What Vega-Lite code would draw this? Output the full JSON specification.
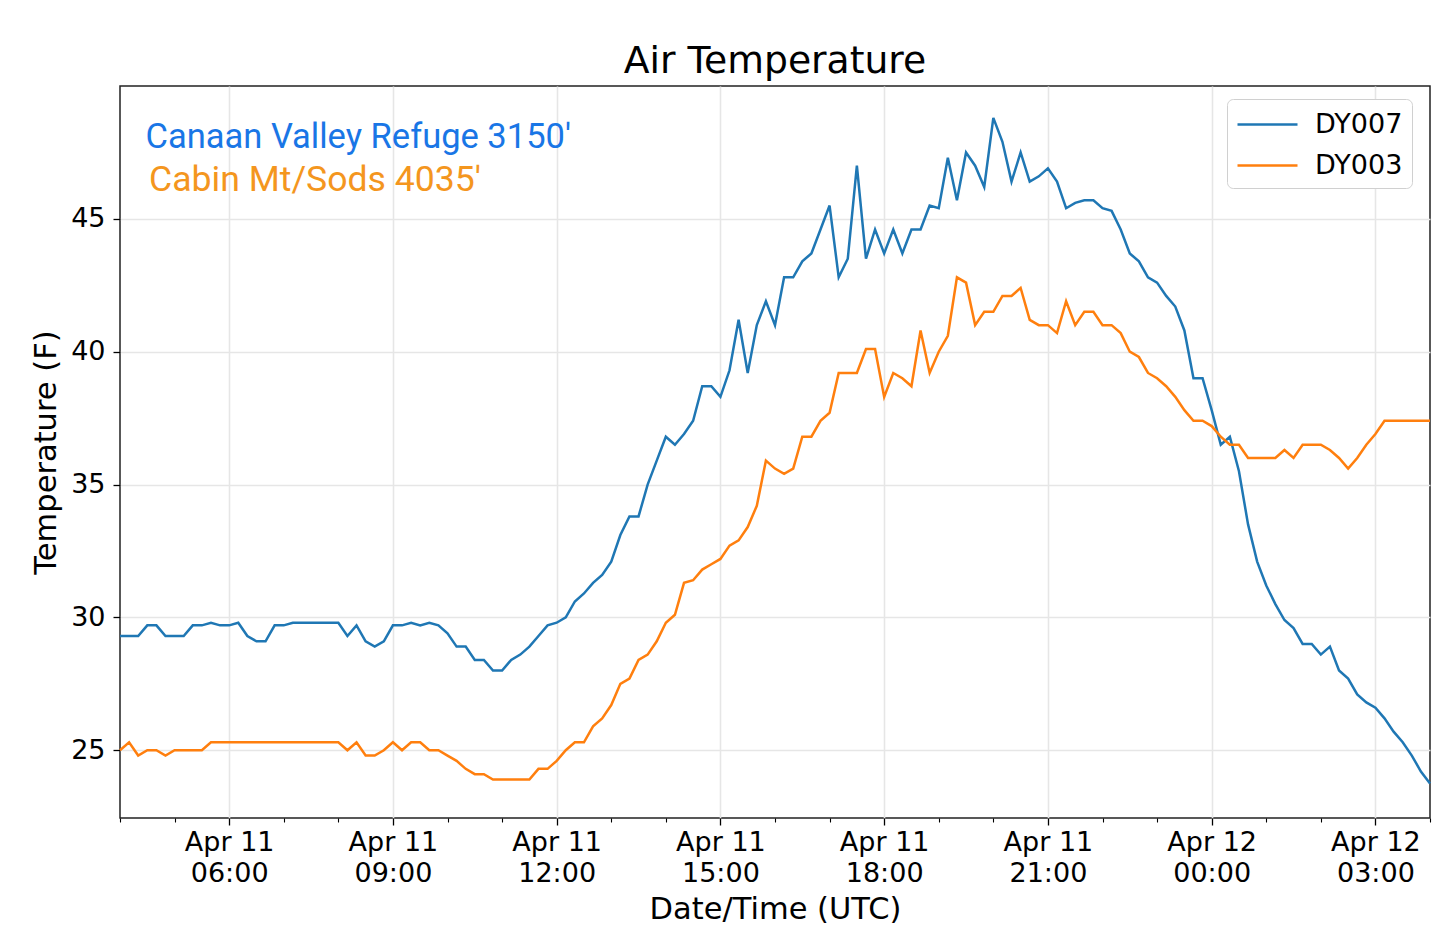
{
  "$schema": "https://vega.github.io/schema/vega-lite/v6.json",
  "width": 1310,
  "height": 732,
  "autosize": {"type": "none"},
  "padding": {"left": 120, "top": 86, "right": 10, "bottom": 130},
  "title": {
    "text": "Air Temperature",
    "font": "DejaVu Sans",
    "fontSize": 37.7,
    "fontWeight": "normal",
    "color": "black",
    "anchor": "middle",
    "baseline": "alphabetic",
    "offset": -25
  },
  "data": {
    "values": [
      {"t": "2019-04-11T04:00:00Z", "DY007": 29.3, "DY003": 25.0},
      {"t": "2019-04-11T04:10:00Z", "DY007": 29.3, "DY003": 25.3},
      {"t": "2019-04-11T04:20:00Z", "DY007": 29.3, "DY003": 24.8},
      {"t": "2019-04-11T04:30:00Z", "DY007": 29.7, "DY003": 25.0},
      {"t": "2019-04-11T04:40:00Z", "DY007": 29.7, "DY003": 25.0},
      {"t": "2019-04-11T04:50:00Z", "DY007": 29.3, "DY003": 24.8},
      {"t": "2019-04-11T05:00:00Z", "DY007": 29.3, "DY003": 25.0},
      {"t": "2019-04-11T05:10:00Z", "DY007": 29.3, "DY003": 25.0},
      {"t": "2019-04-11T05:20:00Z", "DY007": 29.7, "DY003": 25.0},
      {"t": "2019-04-11T05:30:00Z", "DY007": 29.7, "DY003": 25.0},
      {"t": "2019-04-11T05:40:00Z", "DY007": 29.8, "DY003": 25.3},
      {"t": "2019-04-11T05:50:00Z", "DY007": 29.7, "DY003": 25.3},
      {"t": "2019-04-11T06:00:00Z", "DY007": 29.7, "DY003": 25.3},
      {"t": "2019-04-11T06:10:00Z", "DY007": 29.8, "DY003": 25.3},
      {"t": "2019-04-11T06:20:00Z", "DY007": 29.3, "DY003": 25.3},
      {"t": "2019-04-11T06:30:00Z", "DY007": 29.1, "DY003": 25.3},
      {"t": "2019-04-11T06:40:00Z", "DY007": 29.1, "DY003": 25.3},
      {"t": "2019-04-11T06:50:00Z", "DY007": 29.7, "DY003": 25.3},
      {"t": "2019-04-11T07:00:00Z", "DY007": 29.7, "DY003": 25.3},
      {"t": "2019-04-11T07:10:00Z", "DY007": 29.8, "DY003": 25.3},
      {"t": "2019-04-11T07:20:00Z", "DY007": 29.8, "DY003": 25.3},
      {"t": "2019-04-11T07:30:00Z", "DY007": 29.8, "DY003": 25.3},
      {"t": "2019-04-11T07:40:00Z", "DY007": 29.8, "DY003": 25.3},
      {"t": "2019-04-11T07:50:00Z", "DY007": 29.8, "DY003": 25.3},
      {"t": "2019-04-11T08:00:00Z", "DY007": 29.8, "DY003": 25.3},
      {"t": "2019-04-11T08:10:00Z", "DY007": 29.3, "DY003": 25.0},
      {"t": "2019-04-11T08:20:00Z", "DY007": 29.7, "DY003": 25.3},
      {"t": "2019-04-11T08:30:00Z", "DY007": 29.1, "DY003": 24.8},
      {"t": "2019-04-11T08:40:00Z", "DY007": 28.9, "DY003": 24.8},
      {"t": "2019-04-11T08:50:00Z", "DY007": 29.1, "DY003": 25.0},
      {"t": "2019-04-11T09:00:00Z", "DY007": 29.7, "DY003": 25.3},
      {"t": "2019-04-11T09:10:00Z", "DY007": 29.7, "DY003": 25.0},
      {"t": "2019-04-11T09:20:00Z", "DY007": 29.8, "DY003": 25.3},
      {"t": "2019-04-11T09:30:00Z", "DY007": 29.7, "DY003": 25.3},
      {"t": "2019-04-11T09:40:00Z", "DY007": 29.8, "DY003": 25.0},
      {"t": "2019-04-11T09:50:00Z", "DY007": 29.7, "DY003": 25.0},
      {"t": "2019-04-11T10:00:00Z", "DY007": 29.4, "DY003": 24.8},
      {"t": "2019-04-11T10:10:00Z", "DY007": 28.9, "DY003": 24.6},
      {"t": "2019-04-11T10:20:00Z", "DY007": 28.9, "DY003": 24.3},
      {"t": "2019-04-11T10:30:00Z", "DY007": 28.4, "DY003": 24.1},
      {"t": "2019-04-11T10:40:00Z", "DY007": 28.4, "DY003": 24.1},
      {"t": "2019-04-11T10:50:00Z", "DY007": 28.0, "DY003": 23.9},
      {"t": "2019-04-11T11:00:00Z", "DY007": 28.0, "DY003": 23.9},
      {"t": "2019-04-11T11:10:00Z", "DY007": 28.4, "DY003": 23.9},
      {"t": "2019-04-11T11:20:00Z", "DY007": 28.6, "DY003": 23.9},
      {"t": "2019-04-11T11:30:00Z", "DY007": 28.9, "DY003": 23.9},
      {"t": "2019-04-11T11:40:00Z", "DY007": 29.3, "DY003": 24.3},
      {"t": "2019-04-11T11:50:00Z", "DY007": 29.7, "DY003": 24.3},
      {"t": "2019-04-11T12:00:00Z", "DY007": 29.8, "DY003": 24.6},
      {"t": "2019-04-11T12:10:00Z", "DY007": 30.0, "DY003": 25.0},
      {"t": "2019-04-11T12:20:00Z", "DY007": 30.6, "DY003": 25.3},
      {"t": "2019-04-11T12:30:00Z", "DY007": 30.9, "DY003": 25.3},
      {"t": "2019-04-11T12:40:00Z", "DY007": 31.3, "DY003": 25.9},
      {"t": "2019-04-11T12:50:00Z", "DY007": 31.6, "DY003": 26.2},
      {"t": "2019-04-11T13:00:00Z", "DY007": 32.1, "DY003": 26.7},
      {"t": "2019-04-11T13:10:00Z", "DY007": 33.1, "DY003": 27.5},
      {"t": "2019-04-11T13:20:00Z", "DY007": 33.8, "DY003": 27.7},
      {"t": "2019-04-11T13:30:00Z", "DY007": 33.8, "DY003": 28.4},
      {"t": "2019-04-11T13:40:00Z", "DY007": 35.0, "DY003": 28.6},
      {"t": "2019-04-11T13:50:00Z", "DY007": 35.9, "DY003": 29.1},
      {"t": "2019-04-11T14:00:00Z", "DY007": 36.8, "DY003": 29.8},
      {"t": "2019-04-11T14:10:00Z", "DY007": 36.5, "DY003": 30.1},
      {"t": "2019-04-11T14:20:00Z", "DY007": 36.9, "DY003": 31.3},
      {"t": "2019-04-11T14:30:00Z", "DY007": 37.4, "DY003": 31.4},
      {"t": "2019-04-11T14:40:00Z", "DY007": 38.7, "DY003": 31.8},
      {"t": "2019-04-11T14:50:00Z", "DY007": 38.7, "DY003": 32.0},
      {"t": "2019-04-11T15:00:00Z", "DY007": 38.3, "DY003": 32.2},
      {"t": "2019-04-11T15:10:00Z", "DY007": 39.3, "DY003": 32.7},
      {"t": "2019-04-11T15:20:00Z", "DY007": 41.2, "DY003": 32.9},
      {"t": "2019-04-11T15:30:00Z", "DY007": 39.2, "DY003": 33.4},
      {"t": "2019-04-11T15:40:00Z", "DY007": 41.0, "DY003": 34.2},
      {"t": "2019-04-11T15:50:00Z", "DY007": 41.9, "DY003": 35.9},
      {"t": "2019-04-11T16:00:00Z", "DY007": 41.0, "DY003": 35.6},
      {"t": "2019-04-11T16:10:00Z", "DY007": 42.8, "DY003": 35.4},
      {"t": "2019-04-11T16:20:00Z", "DY007": 42.8, "DY003": 35.6},
      {"t": "2019-04-11T16:30:00Z", "DY007": 43.4, "DY003": 36.8},
      {"t": "2019-04-11T16:40:00Z", "DY007": 43.7, "DY003": 36.8},
      {"t": "2019-04-11T16:50:00Z", "DY007": 44.6, "DY003": 37.4},
      {"t": "2019-04-11T17:00:00Z", "DY007": 45.5, "DY003": 37.7},
      {"t": "2019-04-11T17:10:00Z", "DY007": 42.8, "DY003": 39.2},
      {"t": "2019-04-11T17:20:00Z", "DY007": 43.5, "DY003": 39.2},
      {"t": "2019-04-11T17:30:00Z", "DY007": 47.0, "DY003": 39.2},
      {"t": "2019-04-11T17:40:00Z", "DY007": 43.5, "DY003": 40.1},
      {"t": "2019-04-11T17:50:00Z", "DY007": 44.6, "DY003": 40.1},
      {"t": "2019-04-11T18:00:00Z", "DY007": 43.7, "DY003": 38.3},
      {"t": "2019-04-11T18:10:00Z", "DY007": 44.6, "DY003": 39.2},
      {"t": "2019-04-11T18:20:00Z", "DY007": 43.7, "DY003": 39.0},
      {"t": "2019-04-11T18:30:00Z", "DY007": 44.6, "DY003": 38.7},
      {"t": "2019-04-11T18:40:00Z", "DY007": 44.6, "DY003": 40.8},
      {"t": "2019-04-11T18:50:00Z", "DY007": 45.5, "DY003": 39.2},
      {"t": "2019-04-11T19:00:00Z", "DY007": 45.4, "DY003": 40.0},
      {"t": "2019-04-11T19:10:00Z", "DY007": 47.3, "DY003": 40.6},
      {"t": "2019-04-11T19:20:00Z", "DY007": 45.7, "DY003": 42.8},
      {"t": "2019-04-11T19:30:00Z", "DY007": 47.5, "DY003": 42.6},
      {"t": "2019-04-11T19:40:00Z", "DY007": 47.0, "DY003": 41.0},
      {"t": "2019-04-11T19:50:00Z", "DY007": 46.2, "DY003": 41.5},
      {"t": "2019-04-11T20:00:00Z", "DY007": 48.8, "DY003": 41.5},
      {"t": "2019-04-11T20:10:00Z", "DY007": 47.9, "DY003": 42.1},
      {"t": "2019-04-11T20:20:00Z", "DY007": 46.4, "DY003": 42.1},
      {"t": "2019-04-11T20:30:00Z", "DY007": 47.5, "DY003": 42.4},
      {"t": "2019-04-11T20:40:00Z", "DY007": 46.4, "DY003": 41.2},
      {"t": "2019-04-11T20:50:00Z", "DY007": 46.6, "DY003": 41.0},
      {"t": "2019-04-11T21:00:00Z", "DY007": 46.9, "DY003": 41.0},
      {"t": "2019-04-11T21:10:00Z", "DY007": 46.4, "DY003": 40.7},
      {"t": "2019-04-11T21:20:00Z", "DY007": 45.4, "DY003": 41.9},
      {"t": "2019-04-11T21:30:00Z", "DY007": 45.6, "DY003": 41.0},
      {"t": "2019-04-11T21:40:00Z", "DY007": 45.7, "DY003": 41.5},
      {"t": "2019-04-11T21:50:00Z", "DY007": 45.7, "DY003": 41.5},
      {"t": "2019-04-11T22:00:00Z", "DY007": 45.4, "DY003": 41.0},
      {"t": "2019-04-11T22:10:00Z", "DY007": 45.3, "DY003": 41.0},
      {"t": "2019-04-11T22:20:00Z", "DY007": 44.6, "DY003": 40.7},
      {"t": "2019-04-11T22:30:00Z", "DY007": 43.7, "DY003": 40.0},
      {"t": "2019-04-11T22:40:00Z", "DY007": 43.4, "DY003": 39.8},
      {"t": "2019-04-11T22:50:00Z", "DY007": 42.8, "DY003": 39.2},
      {"t": "2019-04-11T23:00:00Z", "DY007": 42.6, "DY003": 39.0},
      {"t": "2019-04-11T23:10:00Z", "DY007": 42.1, "DY003": 38.7},
      {"t": "2019-04-11T23:20:00Z", "DY007": 41.7, "DY003": 38.3},
      {"t": "2019-04-11T23:30:00Z", "DY007": 40.8, "DY003": 37.8},
      {"t": "2019-04-11T23:40:00Z", "DY007": 39.0, "DY003": 37.4},
      {"t": "2019-04-11T23:50:00Z", "DY007": 39.0, "DY003": 37.4},
      {"t": "2019-04-12T00:00:00Z", "DY007": 37.8, "DY003": 37.2},
      {"t": "2019-04-12T00:10:00Z", "DY007": 36.5, "DY003": 36.8},
      {"t": "2019-04-12T00:20:00Z", "DY007": 36.8, "DY003": 36.5},
      {"t": "2019-04-12T00:30:00Z", "DY007": 35.5, "DY003": 36.5},
      {"t": "2019-04-12T00:40:00Z", "DY007": 33.5, "DY003": 36.0},
      {"t": "2019-04-12T00:50:00Z", "DY007": 32.1, "DY003": 36.0},
      {"t": "2019-04-12T01:00:00Z", "DY007": 31.2, "DY003": 36.0},
      {"t": "2019-04-12T01:10:00Z", "DY007": 30.5, "DY003": 36.0},
      {"t": "2019-04-12T01:20:00Z", "DY007": 29.9, "DY003": 36.3},
      {"t": "2019-04-12T01:30:00Z", "DY007": 29.6, "DY003": 36.0},
      {"t": "2019-04-12T01:40:00Z", "DY007": 29.0, "DY003": 36.5},
      {"t": "2019-04-12T01:50:00Z", "DY007": 29.0, "DY003": 36.5},
      {"t": "2019-04-12T02:00:00Z", "DY007": 28.6, "DY003": 36.5},
      {"t": "2019-04-12T02:10:00Z", "DY007": 28.9, "DY003": 36.3},
      {"t": "2019-04-12T02:20:00Z", "DY007": 28.0, "DY003": 36.0},
      {"t": "2019-04-12T02:30:00Z", "DY007": 27.7, "DY003": 35.6},
      {"t": "2019-04-12T02:40:00Z", "DY007": 27.1, "DY003": 36.0},
      {"t": "2019-04-12T02:50:00Z", "DY007": 26.8, "DY003": 36.5},
      {"t": "2019-04-12T03:00:00Z", "DY007": 26.6, "DY003": 36.9},
      {"t": "2019-04-12T03:10:00Z", "DY007": 26.2, "DY003": 37.4},
      {"t": "2019-04-12T03:20:00Z", "DY007": 25.7, "DY003": 37.4},
      {"t": "2019-04-12T03:30:00Z", "DY007": 25.3, "DY003": 37.4},
      {"t": "2019-04-12T03:40:00Z", "DY007": 24.8, "DY003": 37.4},
      {"t": "2019-04-12T03:50:00Z", "DY007": 24.2, "DY003": 37.4},
      {"t": "2019-04-12T04:00:00Z", "DY007": 23.75, "DY003": 37.4}
    ]
  },
  "transform": [{"fold": ["DY007", "DY003"], "as": ["station", "temp"]}],
  "layer": [
    {
      "mark": {"type": "line", "strokeWidth": 2.5},
      "encoding": {
        "x": {
          "field": "t",
          "type": "temporal",
          "scale": {
            "type": "utc",
            "nice": false,
            "domain": [
              {"year": 2019, "month": 4, "date": 11, "hours": 4, "utc": true},
              {"year": 2019, "month": 4, "date": 12, "hours": 4, "utc": true}
            ]
          },
          "axis": {
            "orient": "bottom",
            "values": [
              {"year": 2019, "month": 4, "date": 11, "hours": 6, "utc": true},
              {"year": 2019, "month": 4, "date": 11, "hours": 9, "utc": true},
              {"year": 2019, "month": 4, "date": 11, "hours": 12, "utc": true},
              {"year": 2019, "month": 4, "date": 11, "hours": 15, "utc": true},
              {"year": 2019, "month": 4, "date": 11, "hours": 18, "utc": true},
              {"year": 2019, "month": 4, "date": 11, "hours": 21, "utc": true},
              {"year": 2019, "month": 4, "date": 12, "hours": 0, "utc": true},
              {"year": 2019, "month": 4, "date": 12, "hours": 3, "utc": true}
            ],
            "labelExpr": "[utcFormat(datum.value, '%b %d'), utcFormat(datum.value, '%H:%M')]",
            "labelFont": "DejaVu Sans",
            "labelFontSize": 27,
            "labelLineHeight": 31,
            "labelColor": "black",
            "labelPadding": 4,
            "labelFlush": false,
            "labelOverlap": false,
            "tickSize": 7,
            "tickWidth": 1.3,
            "tickColor": "black",
            "domain": false,
            "grid": true,
            "gridColor": "#e6e6e6",
            "gridWidth": 1.6,
            "title": "Date/Time (UTC)",
            "titleFont": "DejaVu Sans",
            "titleFontSize": 30.5,
            "titleFontWeight": "normal",
            "titleColor": "black",
            "titlePadding": 8
          }
        },
        "y": {
          "field": "temp",
          "type": "quantitative",
          "scale": {"domain": [22.45, 50.0], "nice": false, "zero": false},
          "axis": {
            "values": [25, 30, 35, 40, 45],
            "format": "d",
            "labelFont": "DejaVu Sans",
            "labelFontSize": 27,
            "labelColor": "black",
            "labelPadding": 8,
            "tickSize": 7,
            "tickWidth": 1.3,
            "tickColor": "black",
            "domain": false,
            "grid": true,
            "gridColor": "#e6e6e6",
            "gridWidth": 1.6,
            "title": "Temperature (F)",
            "titleFont": "DejaVu Sans",
            "titleFontSize": 30.5,
            "titleFontWeight": "normal",
            "titleColor": "black",
            "titlePadding": 9
          }
        },
        "color": {
          "field": "station",
          "type": "nominal",
          "scale": {"domain": ["DY007", "DY003"], "range": ["#1f77b4", "#ff7f0e"]},
          "legend": {
            "title": null,
            "orient": "none",
            "legendX": 1107,
            "legendY": 13,
            "symbolType": "M-1,0H3",
            "symbolSize": 900,
            "symbolStrokeWidth": 2.5,
            "labelFont": "DejaVu Sans",
            "labelFontSize": 27,
            "labelColor": "black",
            "labelOffset": 46,
            "padding": 9,
            "rowPadding": 11,
            "strokeColor": "#d0d0d0",
            "fillColor": "white",
            "cornerRadius": 6
          }
        }
      }
    },
    {
      "mark": {"type": "point", "opacity": 0},
      "encoding": {
        "x": {
          "field": "t",
          "type": "temporal",
          "axis": {
            "orient": "bottom",
            "values": [
              {"year": 2019, "month": 4, "date": 11, "hours": 4, "utc": true},
              {"year": 2019, "month": 4, "date": 11, "hours": 5, "utc": true},
              {"year": 2019, "month": 4, "date": 11, "hours": 7, "utc": true},
              {"year": 2019, "month": 4, "date": 11, "hours": 8, "utc": true},
              {"year": 2019, "month": 4, "date": 11, "hours": 10, "utc": true},
              {"year": 2019, "month": 4, "date": 11, "hours": 11, "utc": true},
              {"year": 2019, "month": 4, "date": 11, "hours": 13, "utc": true},
              {"year": 2019, "month": 4, "date": 11, "hours": 14, "utc": true},
              {"year": 2019, "month": 4, "date": 11, "hours": 16, "utc": true},
              {"year": 2019, "month": 4, "date": 11, "hours": 17, "utc": true},
              {"year": 2019, "month": 4, "date": 11, "hours": 19, "utc": true},
              {"year": 2019, "month": 4, "date": 11, "hours": 20, "utc": true},
              {"year": 2019, "month": 4, "date": 11, "hours": 22, "utc": true},
              {"year": 2019, "month": 4, "date": 11, "hours": 23, "utc": true},
              {"year": 2019, "month": 4, "date": 12, "hours": 1, "utc": true},
              {"year": 2019, "month": 4, "date": 12, "hours": 2, "utc": true},
              {"year": 2019, "month": 4, "date": 12, "hours": 4, "utc": true}
            ],
            "labels": false,
            "grid": false,
            "domain": false,
            "tickSize": 4,
            "tickWidth": 1.1,
            "tickColor": "black",
            "title": null
          }
        }
      }
    },
    {
      "data": {"values": [{"label": "Canaan Valley Refuge 3150'"}]},
      "mark": {"type": "text", "font": "Roboto", "fontSize": 34.5, "align": "left", "baseline": "alphabetic", "color": "#1976e6"},
      "encoding": {
        "text": {"field": "label"},
        "x": {"datum": {"year": 2019, "month": 4, "date": 11, "hours": 4, "minutes": 28, "utc": true}, "type": "temporal", "axis": null},
        "y": {"datum": 47.67, "type": "quantitative"}
      }
    },
    {
      "data": {"values": [{"label": "Cabin Mt/Sods 4035'"}]},
      "mark": {"type": "text", "font": "Roboto", "fontSize": 35.6, "align": "left", "baseline": "alphabetic", "color": "#f4961e"},
      "encoding": {
        "text": {"field": "label"},
        "x": {"datum": {"year": 2019, "month": 4, "date": 11, "hours": 4, "minutes": 32, "utc": true}, "type": "temporal", "axis": null},
        "y": {"datum": 46.05, "type": "quantitative"}
      }
    }
  ],
  "resolve": {"axis": {"x": "independent"}},
  "config": {
    "view": {"stroke": "#222222", "strokeWidth": 1.5},
    "font": "DejaVu Sans"
  }
}
